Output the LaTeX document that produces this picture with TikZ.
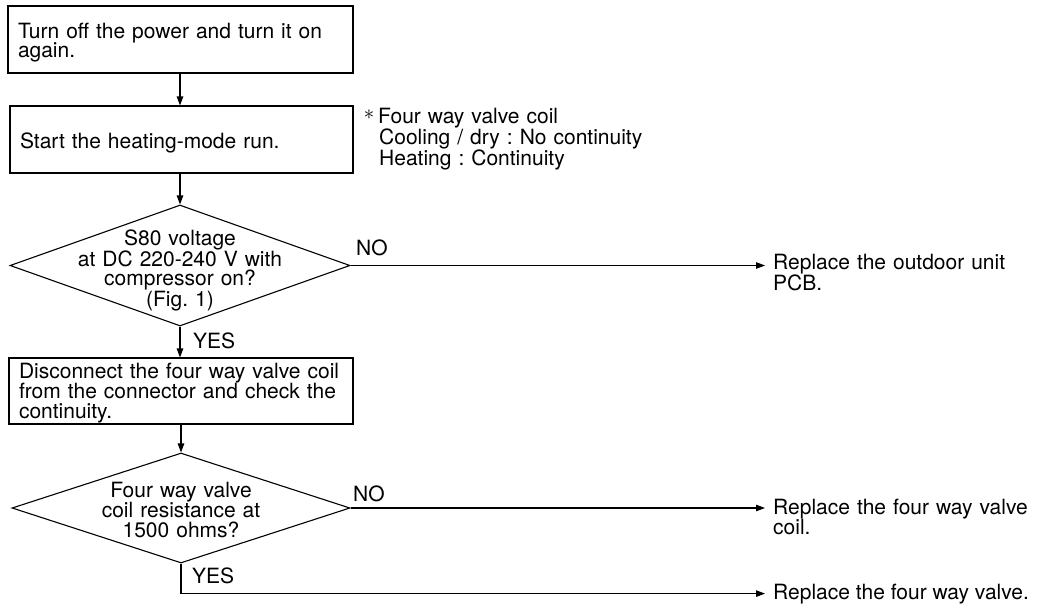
\documentclass[tikz,border=0pt]{standalone}
\usepackage{fontspec}
\setmainfont{TeX Gyre Heros}
\usetikzlibrary{shapes.geometric,arrows.meta}
\lineskiplimit=-50pt
\frenchspacing
\newcommand{\flowfont}{\fontsize{21}{19.5}\selectfont}
\begin{document}
\begin{tikzpicture}[x=1pt,y=-1pt,
  txt/.style={font=\flowfont, text=black},
  box/.style={txt, draw, line width=1.1pt, rectangle, align=left, inner xsep=10pt, inner ysep=0pt},
  dia/.style={draw, line width=1.1pt, diamond, inner sep=0pt},
  conn/.style={line width=1.1pt, -{Triangle[length=9pt,width=6.5pt]}},
  lbl/.style={txt, inner sep=0pt, align=left}]
\useasboundingbox (0,0) rectangle (1048,608);
% boxes
\node[box, text width=325pt, text height=32pt, text depth=35pt] (b1) at (180.5,39.5) {Turn off the power and turn it on\\again.};
\node[box, text width=323pt, text height=42pt, text depth=25pt] (b2) at (181.5,139.5) {Start the heating-mode run.};
\node[box, text width=324pt, text height=20pt, text depth=46pt] (b3) at (181,391) {Disconnect the four way valve coil\\from the connector and check the\\continuity.};
% diamonds
\node[dia, minimum width=340pt, minimum height=121pt] (d1) at (180,265.5) {};
\node[lbl, align=center, text width=260pt, anchor=base] (d1t) at (180,245) {S80 voltage\\at DC 220-240 V with\\compressor on?\\(Fig. 1)};
\node[dia, minimum width=338pt, minimum height=110pt] (d2) at (181,508) {};
\node[lbl, align=center, text width=260pt, anchor=base] (d2t) at (181,497) {Four way valve\\coil resistance at\\1500 ohms?};
% note
\node[lbl, anchor=base west, text width=320pt] (note) at (378,123) {\llap{\raisebox{3.5pt}{$\ast$}\hspace{4pt}}Four way valve coil\\\hspace*{1pt}Cooling / dry : No continuity\\\hspace*{1pt}Heating : Continuity};
% results
\node[lbl, anchor=base west, text width=270pt] (r1) at (773,269) {Replace the outdoor unit\\PCB.};
\node[lbl, anchor=base west, text width=270pt] (r2) at (773,514) {Replace the four way valve\\coil.};
\node[lbl, anchor=base west] (r3) at (773,599) {Replace the four way valve.};
% labels
\node[lbl, anchor=base west] (no1) at (356,255) {NO};
\node[lbl, anchor=base west] (no2) at (353,501) {NO};
\node[lbl, anchor=base west] (yes1) at (193,348) {YES};
\node[lbl, anchor=base west] (yes2) at (192,583) {YES};
% connectors
\draw[conn] (b1.south -| d1.north) -- (d1.north |- b2.north);
\draw[conn] (b2.south -| d1.north) -- (d1.north);
\draw[conn] (d1.south) -- (d1.south |- b3.north);
\draw[conn] (b3.south -| d2.north) -- (d2.north);
\draw[conn, shorten >=8pt] (d1.east) -- (d1.east -| r1.west);
\draw[conn, shorten >=8pt] (d2.east) -- (d2.east -| r2.west);
\draw[conn, shorten >=8pt] (d2.south) |- (r3.west);
\end{tikzpicture}
\end{document}
